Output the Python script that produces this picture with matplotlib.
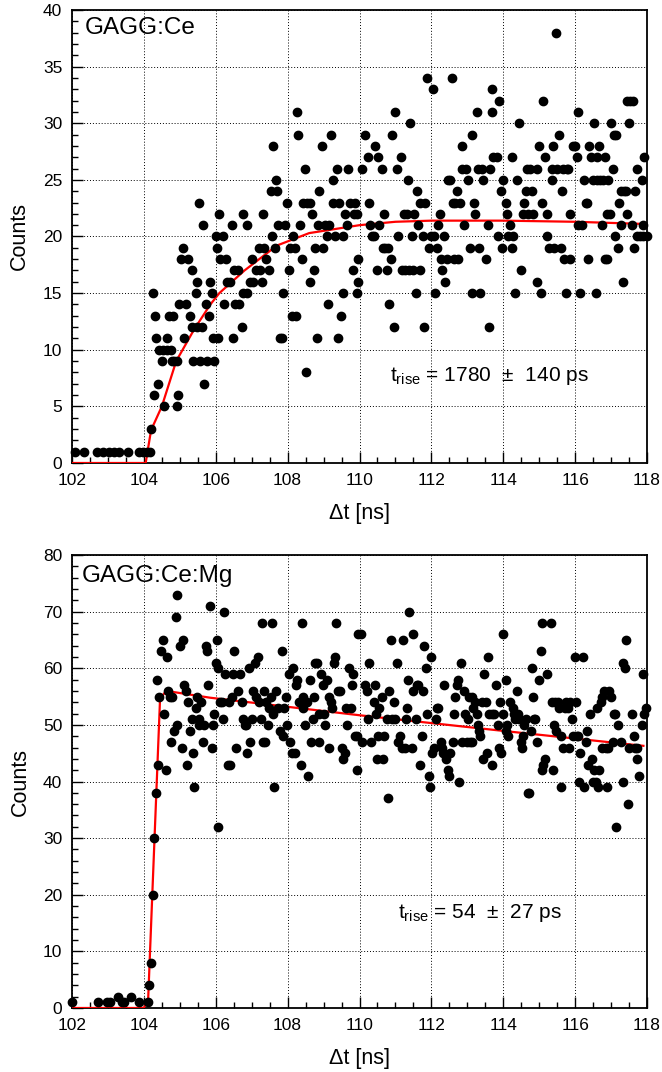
import numpy as np
import matplotlib
matplotlib.use("Agg")
from matplotlib import pyplot as plt
from matplotlib.ticker import MultipleLocator

plt.rcParams['font.family'] = ['Liberation Sans', 'DejaVu Sans']
plt.rcParams['mathtext.fontset'] = 'custom'
plt.rcParams['mathtext.rm'] = 'Liberation Sans'
plt.rcParams['mathtext.it'] = 'Liberation Sans'

# GAGG:Ce 数据 (Δt [ns], counts)
ce_t = [102.08, 102.33, 102.70, 102.87, 103.04, 103.18, 103.32, 103.57, 103.86, 103.98, 104.10, 104.17,
        104.19, 104.24, 104.30, 104.29, 104.40, 104.34, 104.43, 104.50, 104.54, 104.56, 104.63, 104.65,
        104.69, 104.75, 104.77, 104.82, 104.85, 104.91, 104.96, 104.93, 104.98, 105.02, 105.08, 105.12,
        105.17, 105.24, 105.28, 105.33, 105.35, 105.38, 105.44, 105.47, 105.48, 105.52, 105.56, 105.61,
        105.65, 105.68, 105.72, 105.75, 105.81, 105.84, 105.89, 105.91, 105.96, 106.01, 106.03, 106.07,
        106.10, 106.12,
        106.21, 106.29, 106.24, 106.31, 106.40, 106.45, 106.49, 106.51, 106.54, 106.63, 106.66, 106.72,
        106.75, 106.77, 106.86, 106.88, 106.94, 107.03, 107.00, 107.12, 107.19, 107.23, 107.28, 107.31,
        107.33, 107.40, 107.47, 107.54, 107.56, 107.60, 107.65, 107.68, 107.70, 107.74, 107.79, 107.83,
        107.88, 107.93, 107.99, 108.04, 108.07, 108.11, 108.16, 108.21, 108.24, 108.27, 108.30, 108.34,
        108.39, 108.44, 108.49, 108.51, 108.53, 108.61, 108.63, 108.67, 108.72, 108.76, 108.81, 108.84,
        108.88, 108.95, 108.99, 109.04, 109.09, 109.11, 109.16, 109.20, 109.25, 109.27, 109.32, 109.37,
        109.41, 109.44, 109.49, 109.53, 109.55, 109.60, 109.65, 109.69, 109.74, 109.83, 109.84, 109.88,
        109.92, 109.94, 109.95, 109.97,
        110.06, 110.15, 110.25, 110.27, 110.30, 110.34, 110.39, 110.43, 110.48, 110.52, 110.54, 110.62,
        110.66, 110.69, 110.71, 110.76, 110.78, 110.83, 110.88, 110.91, 110.96, 110.99, 111.03, 111.08,
        111.15, 111.17, 111.25, 111.27, 111.31, 111.36, 111.38, 111.40, 111.45, 111.50, 111.53, 111.56,
        111.59, 111.64, 111.67, 111.69, 111.78, 111.80, 111.82, 111.87, 111.92, 111.99, 112.04, 112.08,
        112.10, 112.15, 112.19, 112.24, 112.27, 112.30, 112.36, 112.38, 112.43, 112.47, 112.51, 112.57,
        112.59, 112.64, 112.66, 112.70, 112.75, 112.80, 112.84, 112.86, 112.92, 112.96, 113.03, 113.07,
        113.12, 113.14, 113.19, 113.21, 113.26, 113.29, 113.33, 113.35, 113.40, 113.44, 113.52, 113.57,
        113.59, 113.63, 113.68, 113.70, 113.72, 113.82, 113.84, 113.88, 113.94, 113.96, 114.00,
        114.09, 114.11, 114.14, 114.19, 114.23, 114.24, 114.28, 114.32, 114.37, 114.45, 114.48, 114.54,
        114.58, 114.63, 114.65, 114.70, 114.74, 114.79, 114.84, 114.93, 114.94, 115.00, 115.04, 115.07,
        115.11, 115.16, 115.21, 115.23, 115.28, 115.35, 115.37, 115.39, 115.41, 115.47, 115.50, 115.56,
        115.60, 115.63, 115.65, 115.69, 115.74, 115.76, 115.81, 115.86, 115.87, 115.93, 115.99, 116.04,
        116.07, 116.09, 116.13, 116.18, 116.24, 116.30, 116.34, 116.37, 116.39, 116.43, 116.49, 116.52,
        116.58, 116.60, 116.61, 116.67, 116.69, 116.76, 116.78, 116.83, 116.83, 116.88, 116.90, 116.92,
        116.97, 116.99, 117.04, 117.09, 117.15, 117.12, 117.20, 117.23, 117.27, 117.29, 117.34, 117.36,
        117.41, 117.43, 117.43, 117.51, 117.54, 117.57, 117.62, 117.64, 117.66, 117.71, 117.73, 117.80,
        117.85, 117.88, 117.90, 117.92, 117.99]
ce_n = [1, 1, 1, 1, 1, 1, 1, 1, 1, 1, 1, 1,
        3, 15, 13, 6, 7, 11, 10, 9, 10, 5, 11, 10,
        13, 10, 9, 13, 9, 5, 6, 9, 14, 18, 19, 11,
        14, 18, 13, 17, 12, 9, 15, 16, 12, 23, 9, 12,
        21, 7, 14, 9, 13, 16, 15, 11, 9, 20, 19, 11,
        22, 18,
        20, 18, 14, 16, 16, 21, 11, 17, 14, 17, 14, 12,
        22, 15, 15, 21, 16, 16, 18, 17, 19, 17, 16, 22,
        19, 18, 17, 24, 20, 28, 19, 25, 24, 21, 11, 11,
        15, 21, 23, 17, 19, 13, 20, 19, 13, 31, 29, 21,
        18, 23, 26, 8, 23, 16, 23, 22, 17, 19, 11, 21,
        24, 28, 19, 21, 20, 14, 21, 29, 25, 23, 20, 26,
        11, 23, 13, 20, 15, 22, 21, 26, 23, 17, 22, 23,
        22, 15, 16, 18,
        26, 29, 27, 23, 21, 20, 20, 28, 17, 27, 21, 26,
        19, 22, 19, 17, 19, 14, 18, 29, 12, 31, 26, 20,
        27, 17, 22, 17, 22, 25, 17, 30, 20, 17, 22, 15,
        24, 21, 17, 23, 20, 12, 23, 34, 19, 20, 33, 20,
        15, 19, 21, 22, 18, 17, 20, 16, 18, 25, 25, 34,
        23, 18, 23, 24, 18, 23, 28, 26, 21, 26, 25, 19,
        15, 29, 23, 22, 31, 26, 19, 15, 26, 25, 18, 21,
        12, 26, 31, 33, 27, 27, 20, 32, 24, 19, 25,
        23, 22, 20, 21, 19, 27, 20, 15, 25, 30, 17, 22,
        23, 24, 26, 22, 26, 24, 22, 26, 16, 28, 15, 23,
        32, 27, 22, 20, 19, 26, 25, 28, 19, 38, 26, 29,
        19, 24, 26, 18, 15, 26, 26, 18, 22, 28, 28, 27,
        31, 21, 15, 21, 25, 23, 23, 18, 28, 27, 25, 30,
        15, 27, 25, 28, 25, 21, 25, 27, 18, 18, 22, 25,
        22, 30, 26, 29, 29, 20, 19, 23, 24, 21, 16, 24,
        24, 22, 32, 30, 32, 21, 32, 19, 24, 26, 20, 20,
        25, 21, 20, 27, 20]

# GAGG:Ce 拟合曲线
ce_fit_t = [102.0, 104.05, 104.2, 104.5, 104.9, 105.4, 105.85, 106.1, 106.8, 107.7, 108.6,
            110.0, 111.0, 112.0, 113.0, 114.0, 116.0, 118.0]
ce_fit_n = [0.0, 0.0, 2.9, 5.0, 9.0, 11.8, 14.0, 15.0, 17.0, 19.2, 20.3,
            21.0, 21.3, 21.4, 21.4, 21.4, 21.3, 21.1]

# GAGG:Ce:Mg 数据
mg_t = [102.00, 102.73, 102.96, 103.06, 103.29, 103.38, 103.45, 103.64, 103.87, 104.12, 104.15, 104.20,
        104.24, 104.29, 104.33, 104.38, 104.37, 104.43, 104.48, 104.52, 104.57, 104.62, 104.64, 104.68,
        104.73, 104.77, 104.84, 104.88, 104.91, 104.92, 104.76, 105.01, 105.05, 105.08, 105.12, 105.17,
        105.19, 105.24, 105.28, 105.33, 105.36, 105.40, 105.44, 105.49, 105.52, 105.54, 105.59, 105.64,
        105.67, 105.72, 105.75, 105.79, 105.84, 105.89, 105.93, 105.96, 106.00, 106.03, 106.05, 106.07,
        106.12,
        106.17, 106.19, 106.24, 106.26, 106.35, 106.40, 106.36, 106.45, 106.47, 106.52, 106.57, 106.63,
        106.68, 106.72, 106.75, 106.80, 106.85, 106.88, 106.93, 106.96, 107.00, 107.05, 107.08, 107.12,
        107.17, 107.21, 107.25, 107.28, 107.31, 107.35, 107.37, 107.40, 107.44, 107.49, 107.53, 107.56,
        107.59, 107.63, 107.68, 107.74, 107.79, 107.84, 107.86, 107.90, 107.96, 107.99, 108.04, 108.07,
        108.11, 108.16, 108.20, 108.24, 108.27, 108.33, 108.36, 108.39, 108.42, 108.44, 108.49, 108.53,
        108.56, 108.61, 108.64, 108.70, 108.72, 108.76, 108.83, 108.86, 108.88, 108.92, 108.98, 109.01,
        109.04, 109.09, 109.14, 109.16, 109.20, 109.24, 109.29, 109.32, 109.35, 109.40, 109.46, 109.51,
        109.55, 109.60, 109.63, 109.66, 109.72, 109.76, 109.78, 109.83, 109.88, 109.92, 109.94, 109.97,
        110.04, 110.08, 110.15, 110.20, 110.25, 110.27, 110.32, 110.39, 110.43, 110.45, 110.48, 110.52,
        110.54, 110.62, 110.66, 110.69, 110.76, 110.78, 110.83, 110.87, 110.91, 110.96, 110.99, 111.03,
        111.08, 111.13, 111.17, 111.20, 111.26, 111.28, 111.31, 111.36, 111.39, 111.45, 111.48, 111.50,
        111.56, 111.59, 111.63, 111.68, 111.73, 111.76, 111.80, 111.84, 111.87, 111.92, 111.96, 111.99,
        112.03, 112.08, 112.12, 112.15, 112.19, 112.27, 112.30, 112.33, 112.36, 112.40, 112.45, 112.50,
        112.52, 112.59, 112.64, 112.66, 112.70, 112.73, 112.77, 112.83, 112.85, 112.92, 112.94, 112.98,
        113.01, 113.06, 113.08, 113.12, 113.14, 113.17, 113.21, 113.26, 113.29, 113.32, 113.35, 113.40,
        113.43, 113.47, 113.51, 113.54, 113.58, 113.61, 113.68, 113.70, 113.75, 113.79, 113.85, 113.87,
        113.91, 113.94, 113.98, 114.00,
        114.07, 114.09, 114.11, 114.14, 114.20, 114.26, 114.30, 114.33, 114.37, 114.42, 114.45, 114.48,
        114.51, 114.54, 114.58, 114.63, 114.70, 114.73, 114.76, 114.81, 114.83, 114.85, 114.88, 114.95,
        115.00, 115.04, 115.07, 115.09, 115.11, 115.16, 115.23, 115.32, 115.35, 115.39, 115.42, 115.44,
        115.48, 115.53, 115.56, 115.60, 115.62, 115.67, 115.72, 115.74, 115.81, 115.84, 115.86, 115.90,
        115.95, 115.99, 116.02, 116.06, 116.09, 116.12, 116.13, 116.21, 116.24, 116.30, 116.34, 116.37,
        116.41, 116.46, 116.49, 116.53, 116.58, 116.62, 116.64, 116.67, 116.71, 116.74, 116.76, 116.80,
        116.86, 116.89, 116.92, 116.95, 117.01, 117.04, 117.08, 117.11, 117.14, 117.20, 117.27, 117.32,
        117.34, 117.39, 117.41, 117.46, 117.51, 117.57, 117.64, 117.67, 117.71, 117.73, 117.78, 117.85,
        117.90, 117.92, 117.97]
mg_n = [1, 1, 1, 1, 2, 1, 1, 2, 1, 1, 4, 8,
        20, 30, 38, 43, 58, 55, 63, 65, 52, 42, 62, 56,
        55, 55, 49, 69, 73, 50, 47, 64, 46, 65, 57, 56,
        43, 54, 49, 51, 45, 39, 53, 55, 51, 50, 54, 47,
        50, 64, 63, 57, 71, 46, 50, 52, 61, 65, 60, 32,
        54,
        54, 51, 70, 59, 43, 43, 54, 55, 59, 63, 46, 56,
        59, 54, 51, 50, 50, 45, 60, 47, 51, 56, 61, 55,
        62, 54, 51, 68, 47, 56, 47, 54, 50, 53, 55, 68,
        52, 39, 56, 53, 49, 63, 48, 53, 55, 50, 59, 47,
        45, 60, 45, 57, 58, 54, 43, 68, 55, 53, 50, 54,
        41, 58, 47, 51, 55, 61, 61, 47, 52, 59, 57, 52,
        50, 58, 46, 55, 54, 53, 61, 62, 68, 56, 56, 46,
        44, 45, 53, 50, 60, 53, 57, 59, 48, 48, 42, 66,
        66, 47, 57, 56, 51, 61, 47, 54, 57, 52, 44, 48,
        53, 55, 44, 48, 51, 37, 56, 65, 51, 54, 51, 61,
        47, 48, 46, 65, 46, 51, 53, 58, 70, 46, 66, 56,
        51, 57, 57, 43, 48, 56, 64, 60, 52, 41, 39, 62,
        45, 46, 51, 53, 53, 47, 46, 45, 57, 44, 42, 41,
        45, 47, 52, 55, 57, 58, 40, 61, 47, 56, 52, 47,
        51, 55, 47, 55, 47, 53, 54, 52, 50, 49, 48, 54,
        44, 59, 54, 45, 62, 52, 52, 43, 52, 57, 50, 46,
        54, 45, 66, 52,
        49, 58, 50, 48, 54, 53, 52, 51, 56, 52, 51, 47,
        46, 48, 50, 51, 38, 38, 49, 60, 55, 51, 51, 47,
        58, 63, 42, 68, 43, 44, 59, 68, 54, 42, 50, 54,
        49, 54, 53, 48, 39, 46, 53, 54, 53, 46, 54, 51,
        48, 62, 54, 48, 48, 40, 45, 62, 39, 47, 49, 43,
        52, 44, 40, 42, 40, 53, 39, 42, 54, 46, 55, 56,
        46, 39, 46, 56, 55, 47, 52, 52, 32, 50, 47, 40,
        61, 60, 65, 36, 46, 52, 48, 46, 46, 44, 41, 50,
        59, 52, 53]

# GAGG:Ce:Mg 拟合曲线
mg_fit_t = [102.0, 104.0, 104.12, 104.45, 104.62, 105.84, 110.0, 114.05, 117.9]
mg_fit_n = [0.0, 0.0, 1.7, 54.6, 56.0, 54.8, 51.7, 48.9, 46.3]

W, H = 662, 1072
fig = plt.figure(figsize=(W / 100, H / 100), dpi=100)
ax1 = fig.add_axes([72 / W, 1 - 463 / H, 575 / W, 453 / H])
ax2 = fig.add_axes([72 / W, 1 - 1008 / H, 575 / W, 453 / H])


def style(ax, ymax, ymaj, ymin):
    ax.set_xlim(102, 118)
    ax.set_ylim(0, ymax)
    ax.xaxis.set_major_locator(MultipleLocator(2))
    ax.xaxis.set_minor_locator(MultipleLocator(0.5))
    ax.yaxis.set_major_locator(MultipleLocator(ymaj))
    ax.yaxis.set_minor_locator(MultipleLocator(ymin))
    ax.tick_params(which='both', direction='in', top=False, right=False, labelsize=12.5, width=1)
    ax.tick_params(which='major', length=8, pad=7)
    ax.tick_params(which='minor', length=4)
    ax.grid(True, which='major', ls=(0, (1, 2)), color='black', lw=0.7)
    for s in ax.spines.values():
        s.set_linewidth(1.3)
    ax.set_xlabel('Δt [ns]', fontsize=15.5, labelpad=11)
    ax.set_ylabel('Counts', fontsize=15.5, labelpad=9)


#上图
style(ax1, 40, 5, 1)
ax1.plot(ce_fit_t, ce_fit_n, color='red', lw=1.6, zorder=3)
ax1.plot(ce_t, ce_n, 'o', color='black', ms=6, zorder=4, clip_on=False)
ax1.text(0.023, 0.96, 'GAGG:Ce', transform=ax1.transAxes, fontsize=17.5, va='center', ha='left')
ax1.text(110.85, 7.7, r'$\mathrm{t_{rise}}$ = 1780  ±  140 ps', fontsize=15, va='center')

#下图
style(ax2, 80, 10, 2)
ax2.plot(mg_fit_t, mg_fit_n, color='red', lw=1.6, zorder=3)
ax2.plot(mg_t, mg_n, 'o', color='black', ms=6, zorder=4, clip_on=False)
ax2.text(0.017, 0.954, 'GAGG:Ce:Mg', transform=ax2.transAxes, fontsize=17.5, va='center', ha='left')
ax2.text(111.07, 16.8, r'$\mathrm{t_{rise}}$ = 54  ±  27 ps', fontsize=15, va='center')

fig.savefig('out.png', dpi=100)
